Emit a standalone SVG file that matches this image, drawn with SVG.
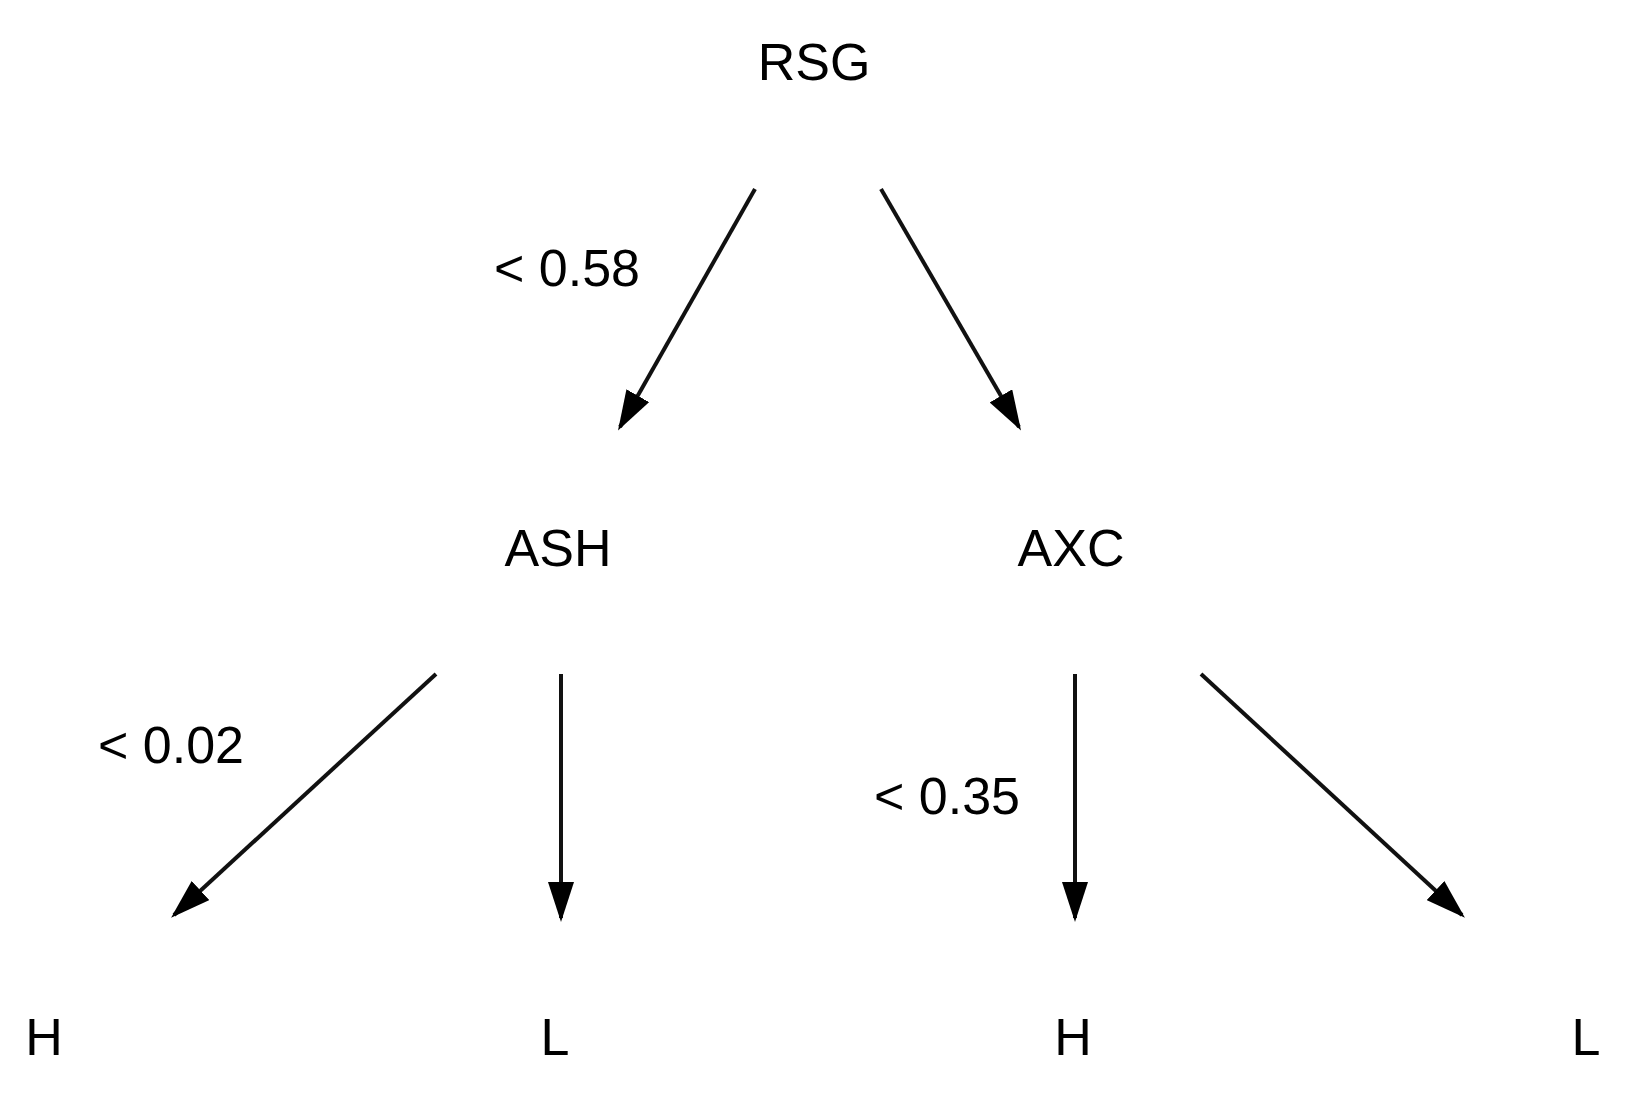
<svg xmlns="http://www.w3.org/2000/svg" width="1626" height="1099" viewBox="0 0 1626 1099">
<style>
text{font-family:"Liberation Sans",Arial,sans-serif;font-size:52px;fill:#000;text-anchor:middle}
.e{stroke:#111;stroke-width:4;fill:none;marker-end:url(#a)}
</style>
<defs><marker id="a" viewBox="0 0 10 10" refX="9" refY="5" markerWidth="10" markerHeight="6.5" orient="auto" markerUnits="strokeWidth" preserveAspectRatio="none"><path d="M0,0L10,5L0,10z" fill="#000"/></marker></defs>
<rect width="1626" height="1099" fill="#fff"/>
<g id="edges">
<line class="e" x1="755" y1="189" x2="620" y2="427"/>
<line class="e" x1="881" y1="189" x2="1019" y2="427"/>
<line class="e" x1="436" y1="674" x2="174" y2="915"/>
<line class="e" x1="561" y1="674" x2="561" y2="918"/>
<line class="e" x1="1075" y1="674" x2="1075" y2="918"/>
<line class="e" x1="1201" y1="674" x2="1462" y2="915"/>
<text x="567" y="286">&lt; 0.58</text>
<text x="171" y="763">&lt; 0.02</text>
<text x="947" y="814">&lt; 0.35</text>
</g>
<g id="rsg"><text x="814" y="80">RSG</text></g>
<g id="ash"><text x="558" y="566">ASH</text></g>
<g id="axc"><text x="1071" y="566">AXC</text></g>
<g id="h1"><text x="44" y="1055">H</text></g>
<g id="l1"><text x="555" y="1055">L</text></g>
<g id="h2"><text x="1073" y="1055">H</text></g>
<g id="l2"><text x="1586" y="1055">L</text></g>
</svg>
